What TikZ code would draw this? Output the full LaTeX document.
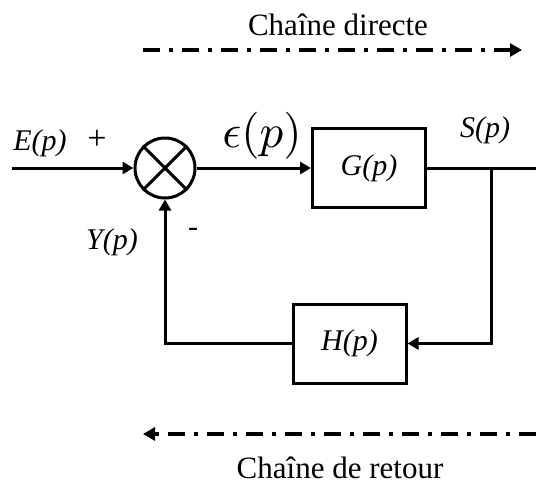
\documentclass[tikz,border=0pt]{standalone}
\usepackage{fontspec}
\setmainfont{Liberation Serif}
\usetikzlibrary{arrows.meta,positioning}

\begin{document}
\begin{tikzpicture}[x=1pt,y=-1pt,line width=3pt,
  blk/.style={draw,line width=3pt,minimum width=113pt,minimum height=79pt,
    font=\fontsize{30}{30}\selectfont\itshape},
  lbl/.style={font=\fontsize{30}{30}\selectfont\itshape},
  sgn/.style={font=\fontsize{30}{30}\selectfont},
  sig/.style={-{Triangle[length=11pt,width=12pt]}},
  chain/.style={line width=4pt,dash pattern=on 17pt off 9pt on 4pt off 9pt,
    -{Triangle[length=12pt,width=13pt]}},
  title/.style={font=\fontsize{31}{31}\selectfont}]
  \useasboundingbox (0,0) rectangle (536,488);
  % comparateur
  \node[circle,draw,line width=3pt,minimum size=60pt,inner sep=0pt] (sum) at (165,168) {};
  \draw (sum.north west) -- (sum.south east) (sum.north east) -- (sum.south west);
  % blocs
  \node[blk] (G) at (369,168) {G(p)};
  \node[blk] (H) at (349.5,343.5) {H(p)};
  \coordinate (in) at (12,168);
  \coordinate (out) at (536,168);
  \coordinate (br) at (491,168);
  \draw[sig] (in) -- (sum.west);
  \draw[sig] (sum.east) -- (G.west);
  \draw (G.east) -- (out);
  \draw[sig] (br) |- (H.east);
  \draw[sig] (H.west) -| (sum.south);
  % signaux
  \node[lbl] (E) at (40,143) {E(p)};
  \node[font=\fontsize{34}{34}\selectfont] (plus) at (97,140) {+};
  \node[font=\normalsize,scale=4.7] (eps) at (262,136) {$\epsilon(p)$};
  \node[lbl] (S) at (485,130) {S(p)};
  \node[lbl] (Y) at (112,242) {Y(p)};
  \node[sgn] (minus) at (193,232) {-};
  % chaines
  \coordinate (d1) at (143,50);
  \coordinate (d2) at (522,50);
  \coordinate (r1) at (536,434);
  \coordinate (r2) at (143,434);
  \draw[chain] (d1) -- (d2);
  \draw[chain] (r1) -- (r2);
  \node[title] (direct) at (338,25) {Chaîne directe};
  \node[title] (retour) at (340,468) {Chaîne de retour};
\end{tikzpicture}
\end{document}
